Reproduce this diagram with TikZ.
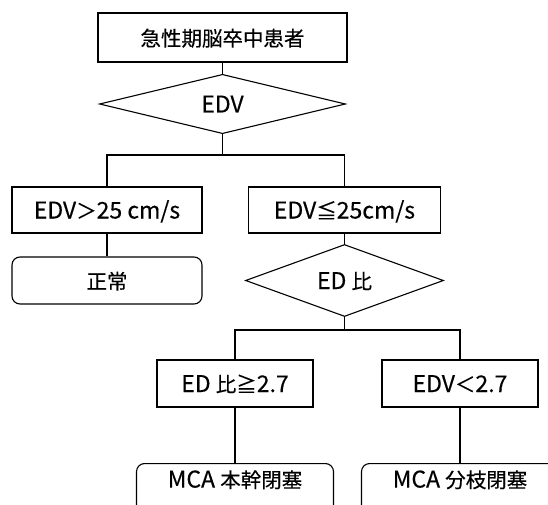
\documentclass[tikz,border=0pt]{standalone}
\usepackage{fontspec}
\setmainfont{Noto Sans CJK JP}[FakeBold=0.35]
\usetikzlibrary{shapes.geometric}
\newcommand\jtxt[1]{{\fontsize{20.5}{24}\selectfont #1}}
\begin{document}
\begin{tikzpicture}[x=1pt,y=-1pt,
  lw/.style={line width=1.1pt},
  box/.style={draw, lw, rectangle, inner sep=0pt, text height=17pt, text depth=0pt,
    font=\fontsize{23}{26}\selectfont},
  rbox/.style={box, rounded corners=8pt},
  dia/.style={draw, lw, diamond, inner sep=0pt, text height=17pt, text depth=0pt,
    font=\fontsize{23}{26}\selectfont},
  conn/.style={lw}
]
\useasboundingbox (0,0) rectangle (548,505);
\clip (0,0) rectangle (548,505);

\node[box, minimum width=249, minimum height=49] (start) at (222.5,37.5) {\jtxt{急性期脳卒中患者}};
\node[dia, minimum width=246, minimum height=54] (d1) at (222.5,104) {EDV};
\coordinate (h1) at (222.5,155);
\node[box, minimum width=190, minimum height=46] (b1) at (107,210) {EDV\jtxt{＞}25 cm/s};
\node[box, minimum width=192, minimum height=46] (b2) at (344.5,210) {EDV\jtxt{≦}25cm/s};
\node[rbox, minimum width=190, minimum height=47] (n1) at (107,280.5) {\jtxt{正常}};
\node[dia, minimum width=198, minimum height=43] (d2) at (344.5,280.5) {ED \jtxt{比}};
\coordinate (h2) at (344.5,330);
\node[box, minimum width=156, minimum height=47] (b3) at (235,383.5) {ED \jtxt{比≧}2.7};
\node[box, minimum width=156, minimum height=47] (b4) at (460,383.5) {EDV\jtxt{＜}2.7};
\node[rbox, anchor=north, minimum width=197, text height=24pt, text depth=28pt] (m1) at (235,463) {MCA \jtxt{本幹閉塞}};
\node[rbox, anchor=north, minimum width=197, text height=24pt, text depth=28pt] (m2) at (460,463) {MCA \jtxt{分枝閉塞}};

\draw[conn] (start.south) -- (d1.north);
\draw[conn] (d1.south) -- (h1);
\draw[conn] (b1.north) -- (b1.north |- h1) -- (b2.north |- h1) -- (b2.north);
\draw[conn] (b1.south) -- (n1.north);
\draw[conn] (b2.south) -- (d2.north);
\draw[conn] (d2.south) -- (h2);
\draw[conn] (b3.north) -- (b3.north |- h2) -- (b4.north |- h2) -- (b4.north);
\draw[conn] (b3.south) -- (m1.north);
\draw[conn] (b4.south) -- (m2.north);
\end{tikzpicture}
\end{document}
